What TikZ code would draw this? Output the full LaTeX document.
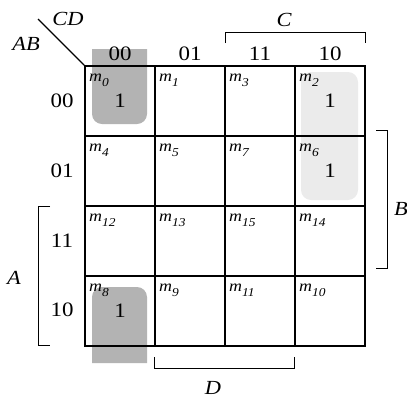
\documentclass[tikz,border=0pt]{standalone}
\usepackage{fontspec}
\setmainfont{Liberation Serif}
\newcommand\msub[1]{\raisebox{-5pt}{\fontsize{12}{12}\selectfont\textit{#1}}}
\newcommand\wide[1]{\scalebox{1.12}[1]{#1}}
\definecolor{darkshade}{HTML}{B3B3B3}
\definecolor{lightshade}{HTML}{EBEBEB}
\tikzset{
  cell/.style={draw, line width=1.5pt, minimum size=70pt, inner sep=0pt},
  mlab/.style={font=\fontsize{16}{18}\selectfont, inner sep=0pt, anchor=base west},
  big/.style={font=\fontsize{20.5}{22}\selectfont, inner sep=0pt},
  var/.style={font=\fontsize{20}{22}\selectfont\itshape, inner sep=0pt},
  brack/.style={line width=0.9pt},
}
\begin{document}
\begin{tikzpicture}[x=1pt,y=-1pt]
\useasboundingbox (0,0) rectangle (407,400);
% shaded groups
\fill[darkshade] (92,49) -- (147,49) [rounded corners=10pt] -- (147,124) -- (92,124) [sharp corners] -- cycle;
\fill[darkshade] (92,363) -- (147,363) [rounded corners=10pt] -- (147,287) -- (92,287) [sharp corners] -- cycle;
\fill[lightshade, rounded corners=10pt] (301,72) rectangle (358,200);
% cells
\foreach \r/\ab in {0/0,1/1,2/3,3/2}{
  \foreach \c/\cd in {0/0,1/1,2/3,3/2}{
    \pgfmathtruncatemacro\mt{4*\ab+\cd}
    \node[cell] (c\mt) at (120+70*\c, 101+70*\r) {};
    \node[mlab] (l\mt) at (89+70*\c, 81+70*\r) {\wide{\textit{m}}\msub{\wide{\mt}}};
  }
}
% ones
\foreach \k in {0,2,6,8}{ \node[big] (one\k) at (c\k) {\wide{1}}; }
% column headers
\node[big] (h0) at (120,54) {\wide{00}};
\node[big] (h1) at (190,54) {\wide{01}};
\node[big] (h3) at (260,54) {\wide{11}};
\node[big] (h2) at (330,54) {\wide{10}};
% row headers
\node[big] (r0) at (62,101) {\wide{00}};
\node[big] (r1) at (62,171) {\wide{01}};
\node[big] (r3) at (62,241) {\wide{11}};
\node[big] (r2) at (62,310) {\wide{10}};
% corner
\coordinate (diag) at (38,19);
\draw[line width=1.3pt] (diag) -- (c0.north west);
\node[var] (cd) at (68,19) {\wide{CD}};
\node[var] (abl) at (26,44) {\wide{AB}};
% brackets
\draw[brack] (225,43) -- (225,32) -- (365,32) -- (365,43);
\node[var] (cl) at (284,20) {\wide{C}};
\draw[brack] (376,130) -- (387,130) -- (387,268) -- (376,268);
\node[var] (bl) at (401,209) {\wide{B}};
\draw[brack] (50,206) -- (38,206) -- (38,345) -- (50,345);
\node[var] (al) at (14,278) {\wide{A}};
\draw[brack] (154,357) -- (154,368) -- (294,368) -- (294,357);
\node[var] (dl) at (213,388) {\wide{D}};
\end{tikzpicture}
\end{document}
